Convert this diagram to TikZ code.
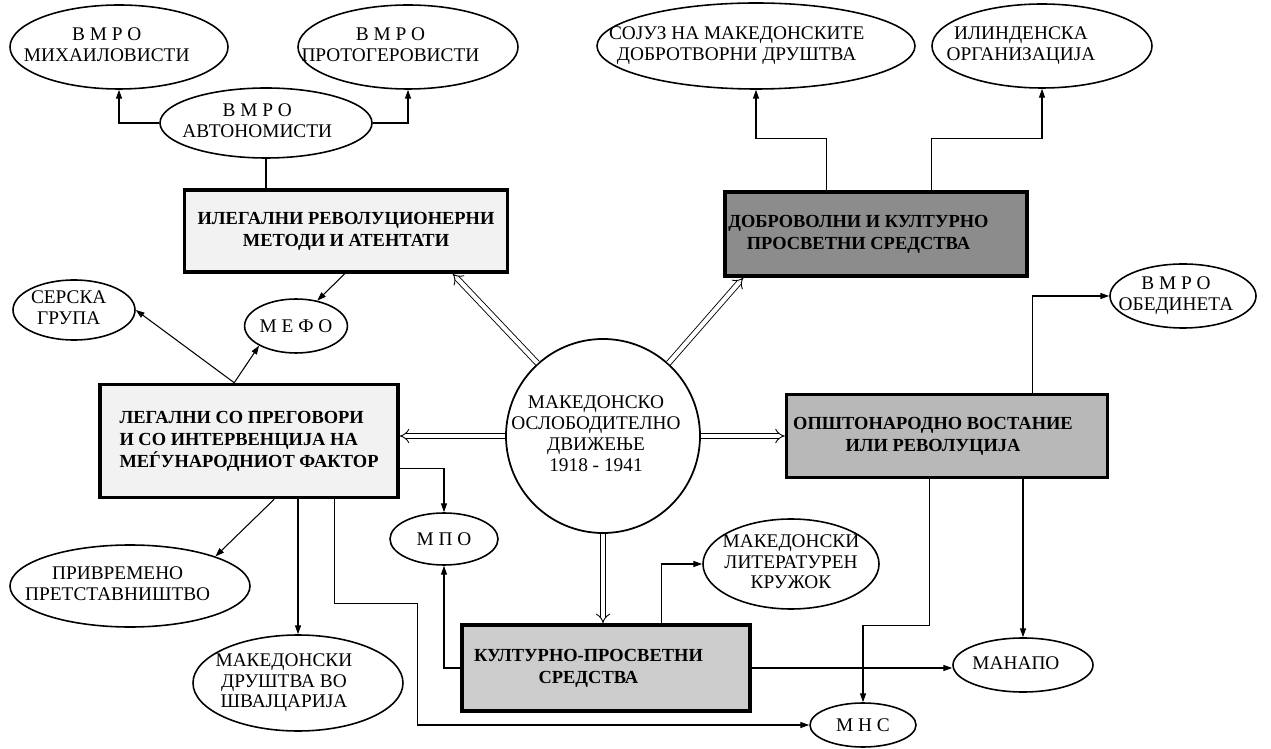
\documentclass[tikz,border=0pt]{standalone}
\usepackage{fontspec}
\setmainfont{Liberation Serif}
\usetikzlibrary{calc}
\usetikzlibrary{positioning}
\usetikzlibrary{shapes.geometric}
\usetikzlibrary{arrows.meta}
% text block of no width, pushed a little to the left of the shape centre
\newcommand{\lft}[2][0pt]{\makebox[0pt]{\begin{tabular}{@{}c@{\hspace{#1}}}#2\end{tabular}}}

\begin{document}
\begin{tikzpicture}[x=0.02cm, y=-0.02cm,
    oval/.style 2 args={ellipse, draw, line width=0.9pt, inner sep=0pt, align=center,
        minimum width=#1*0.02cm, minimum height=#2*0.02cm, font=\fontsize{11}{11.5}\selectfont},
    box/.style 2 args={rectangle, draw, line width=2pt, inner sep=0pt, align=center,
        minimum width=#1*0.02cm, minimum height=#2*0.02cm, font=\bfseries\fontsize{10.5}{12.5}\selectfont},
    link/.style={line width=0.6pt, -{Triangle[length=5pt, width=3.4pt]}},
    dbl/.style={double, double distance=2.4pt, line width=0.5pt, -{Implies}}]
            \useasboundingbox (0,0) rectangle (1271,749);
            % centre
            \node[circle, draw, line width=1pt, minimum size=194*0.02cm, inner sep=0pt,
                font=\fontsize{11}{12}\selectfont] (mod) at (603,436)
                {\lft[8pt]{МАКЕДОНСКО\\ОСЛОБОДИТЕЛНО\\ДВИЖЕЊЕ\\1918 - 1941}};
            % boxes
            \node[box={323}{82}, fill=black!5] (ileg) at (346,231) {ИЛЕГАЛНИ РЕВОЛУЦИОНЕРНИ\\МЕТОДИ И АТЕНТАТИ};
            \node[box={302}{84}, fill=black!45] (dobr) at (876,234) {\lft[20pt]{ДОБРОВОЛНИ И КУЛТУРНО\\ПРОСВЕТНИ СРЕДСТВА}};
            \node[box={298}{113}, fill=black!5, align=left] (legal) at (249,441) {ЛЕГАЛНИ СО ПРЕГОВОРИ\\И СО ИНТЕРВЕНЦИЈА НА\\МЕЃУНАРОДНИОТ ФАКТОР};
            \node[box={321}{83}, fill=black!28] (opsht) at (947,436) {\lft[16pt]{ОПШТОНАРОДНО ВОСТАНИЕ\\ИЛИ РЕВОЛУЦИЈА}};
            \node[box={288}{86}, fill=black!20] (kult) at (606,668) {\lft[20pt]{КУЛТУРНО-ПРОСВЕТНИ\\СРЕДСТВА}};
            % ovals
            \node[oval={218}{84}] (mih) at (119,47) {\lft[14pt]{В М Р О\\МИХАИЛОВИСТИ}};
            \node[oval={220}{84}] (prot) at (408,47) {\lft[20pt]{В М Р О\\ПРОТОГЕРОВИСТИ}};
            \node[oval={212}{70}] (avt) at (266,123) {\lft[10pt]{В М Р О\\АВТОНОМИСТИ}};
            \node[oval={318}{86}] (sojuz) at (756,46) {\lft[22pt]{СОЈУЗ НА МАКЕДОНСКИТЕ\\ДОБРОТВОРНИ ДРУШТВА}};
            \node[oval={220}{84}] (ilind) at (1042,46) {\lft[24pt]{ИЛИНДЕНСКА\\ОРГАНИЗАЦИЈА}};
            \node[oval={122}{60}] (serska) at (74,310) {\lft[6pt]{СЕРСКА\\ГРУПА}};
            \node[oval={98}{54}] (mefo) at (296,326) {М Е Ф О};
            \node[oval={146}{64}] (obed) at (1183,296) {\lft[8pt]{В М Р О\\ОБЕДИНЕТА}};
            \node[oval={108}{52}] (mpo) at (444,539) {М П О};
            \node[oval={240}{82}] (privr) at (130,586) {\lft[14pt]{ПРИВРЕМЕНО\\ПРЕТСТАВНИШТВО}};
            \node[oval={210}{96}] (shv) at (298,683) {\lft[16pt]{МАКЕДОНСКИ\\ДРУШТВА ВО\\ШВАЈЦАРИЈА}};
            \node[oval={176}{90}] (lit) at (791,564) {\lft{МАКЕДОНСКИ\\ЛИТЕРАТУРЕН\\КРУЖОК}};
            \node[oval={140}{54}] (manapo) at (1023,665) {\lft[8pt]{МАНАПО}};
            \node[oval={106}{44}] (mns) at (863,725) {М Н С};
            % double arrows from the centre
            \draw[dbl] (mod.132) -- ($(ileg.south west)+(270,0)$);
            \draw[dbl] (mod.48) -- ($(dobr.south west)+(20,0)$);
            \draw[dbl] (mod.west) -- (mod.west -| legal.east);
            \draw[dbl] (mod.east) -- (mod.east -| opsht.west);
            \draw[dbl] (mod.south) -- (mod.south |- kult.north);
            % links
            \draw[link] (avt.west) -| (mih.south);
            \draw[link] (avt.east) -| (prot.south);
            \draw[line width=0.6pt] (avt.south) -- (avt.south |- ileg.north);
            \draw[link] ($(dobr.north west)+(103,0)$) -- ++(0,-52) -| (sojuz.south);
            \draw[link] ($(dobr.north west)+(208,0)$) -- ++(0,-52) -| (ilind.south);
            \draw[link] ($(ileg.south west)+(162,0)$) -- (mefo.50);
            \draw[link] ($(legal.north west)+(136,0)$) -- (serska.east);
            \draw[link] ($(legal.north west)+(136,0)$) -- (mefo.south west);
            \draw[link] ($(legal.south east)+(0,-31)$) -| (mpo.north);
            \draw[link] ($(legal.south west)+(176,0)$) -- (privr.north east);
            \draw[link] (legal.south -| shv.north) -- (shv.north);
            \draw[link] ($(legal.south west)+(236,0)$) -- ++(0,104) -- ++(83,0) |- (mns.west);
            \draw[link] (kult.west) -| (mpo.south);
            \draw[link] ($(kult.north west)+(201,0)$) |- (lit.west);
            \draw[link] (kult.east) -- (kult.east -| manapo.west);
            \draw[link] ($(opsht.north west)+(248,0)$) |- (obed.west);
            \draw[link] (opsht.south -| manapo.north) -- (manapo.north);
            \draw[link] ($(opsht.south west)+(145,0)$) -- ++(0,146) -| (mns.north);
        \end{tikzpicture}
\end{document}
